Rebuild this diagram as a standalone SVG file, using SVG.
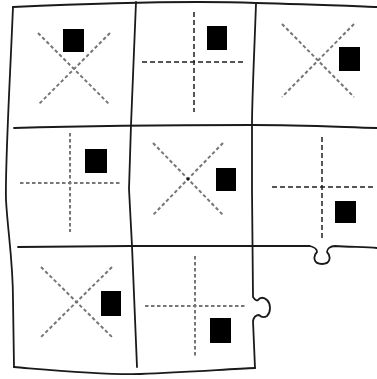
<svg xmlns="http://www.w3.org/2000/svg" width="377" height="379" viewBox="0 0 377 379">
<style>
.edge{fill:none;stroke:#1a1a1a;stroke-width:1.8;stroke-linejoin:round;stroke-linecap:round}
.dot{fill:none;stroke:#767676;stroke-width:2;stroke-dasharray:3.5 2.5}
.dash{fill:none;stroke:#1e1e1e;stroke-width:1.5;stroke-dasharray:5 3}
.sq{fill:#000}
</style>
<rect width="377" height="379" fill="#fff"/>
<g id="connectors">
<path class="edge" d="M13,7 C80,4 180,0 256,3 C300,4 350,6 377,7"/>
<path class="edge" d="M13,7 C10,80 5,165 6,200 C8,235 13,260 13,300 L14,367"/>
<path class="edge" d="M14,367 C50,370 100,375 140,374 C190,372 230,369 255,368"/>
<path class="edge" d="M14,128 C80,126 180,125 252,125 C300,125 340,127 377,128"/>
<path class="edge" d="M18,247 L131,246 L310,246 C314,247 317,249 317,252 C313,256 313,264 322,264 C331,264 331,256 327,252 C327,249 330,246 335,246 C350,247 365,247 377,248"/>
<path class="edge" d="M136,2 L131,125 L129,189 L132,246 L137,367"/>
<path class="edge" d="M256,4 C254,60 252,100 252,125 L252,190 L253,297 C255,300 257,301 258,300 C260,297 264,297 267,300 C271,304 271,312 267,316 C264,318 261,317 259,315 C257,315 254,316 253,321 L255,368"/>
</g>
<g id="cell-1-1">
<line class="dot" x1="38" y1="33" x2="110" y2="105"/>
<line class="dot" x1="110" y1="33" x2="38" y2="105"/>
<rect class="sq" x="63" y="29" width="21" height="23"/>
</g>
<g id="cell-1-2">
<line class="dash" x1="194" y1="12" x2="194" y2="112"/>
<line class="dash" x1="142" y1="62" x2="244" y2="62"/>
<rect class="sq" x="207" y="26" width="20" height="24"/>
</g>
<g id="cell-1-3">
<line class="dot" x1="282" y1="24" x2="354" y2="97"/>
<line class="dot" x1="354" y1="24" x2="282" y2="97"/>
<rect class="sq" x="339" y="47" width="21" height="24"/>
</g>
<g id="cell-2-1">
<line class="dot" x1="70" y1="133" x2="70" y2="232"/>
<line class="dot" x1="20" y1="183" x2="120" y2="183"/>
<rect class="sq" x="85" y="149" width="22" height="24"/>
</g>
<g id="cell-2-2">
<line class="dot" x1="153" y1="143" x2="223" y2="215"/>
<line class="dot" x1="223" y1="143" x2="153" y2="215"/>
<circle cx="188" cy="179" r="1.6" fill="#111"/>
<rect class="sq" x="216" y="168" width="20" height="23"/>
</g>
<g id="cell-2-3">
<line class="dash" x1="322" y1="137" x2="322" y2="239"/>
<line class="dash" x1="272" y1="187" x2="373" y2="187"/>
<rect class="sq" x="335" y="201" width="21" height="22"/>
</g>
<g id="cell-3-1">
<line class="dot" x1="41" y1="267" x2="112" y2="337"/>
<line class="dot" x1="112" y1="267" x2="41" y2="337"/>
<rect class="sq" x="101" y="291" width="20" height="25"/>
</g>
<g id="cell-3-2">
<line class="dot" x1="195" y1="256" x2="195" y2="356"/>
<line class="dot" x1="145" y1="306" x2="245" y2="306"/>
<rect class="sq" x="210" y="318" width="21" height="25"/>
</g>
</svg>
